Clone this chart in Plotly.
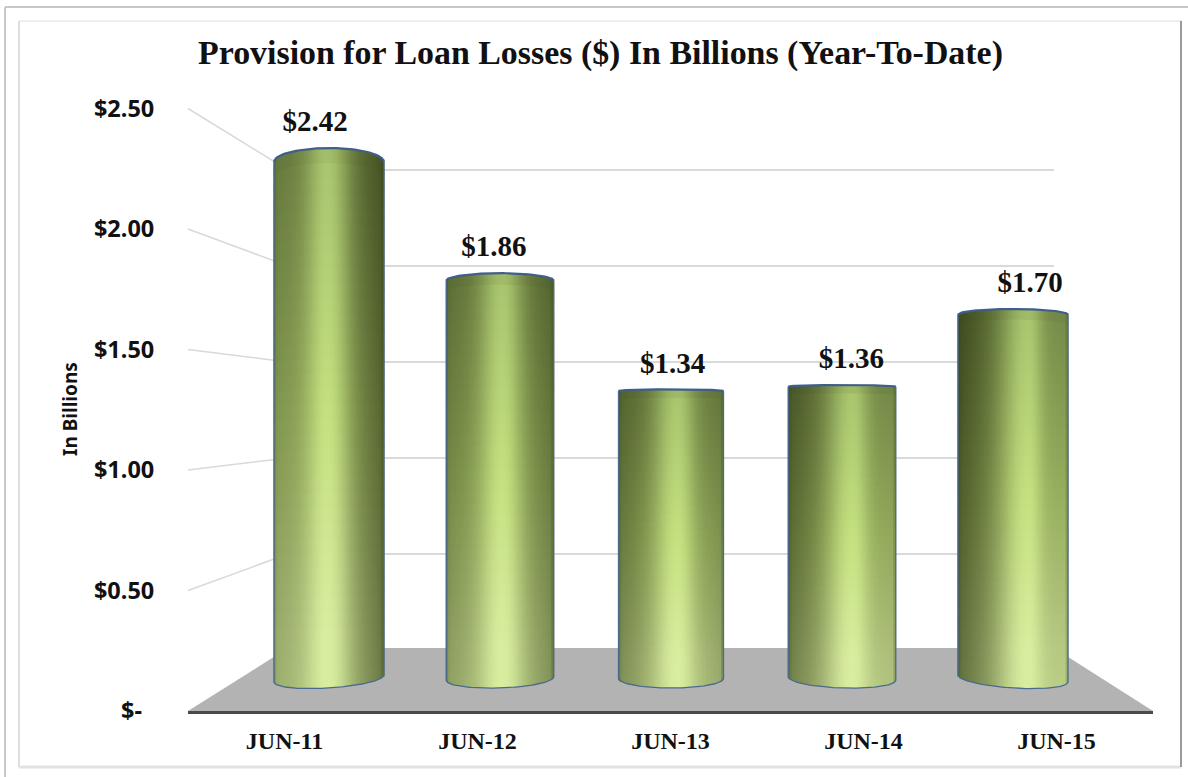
import math
import plotly.graph_objects as go

categories = ["JUN-11", "JUN-12", "JUN-13", "JUN-14", "JUN-15"]
values = [2.42, 1.86, 1.34, 1.36, 1.70]
value_labels = ["$2.42", "$1.86", "$1.34", "$1.36", "$1.70"]
y_ticks = [0, 0.5, 1.0, 1.5, 2.0, 2.5]
y_tick_labels = ["$-\u00a0\u00a0", "$0.50", "$1.00", "$1.50", "$2.00", "$2.50"]

W, H = 1188, 777
SERIF = "Liberation Serif"
SANS = "Noto Sans"


def px(x):
    return x / W


def py(y):
    return 1 - y / H


# bar projection: value 0 sits at pixel 675, 212 px per unit
B0, BS = 675, 212
CX0, CXS = 329, 171


def to_val(y):
    return (B0 - y) / BS


def lerp(a, b, t):
    return a + (b - a) * t


def mix(c1, c2, t):
    return tuple(lerp(a, b, t) for a, b in zip(c1, c2))


DARK = (55, 67, 26)
HI_TOP = (168, 196, 110)
HI_MID = (197, 225, 128)
HI_BOT = (217, 238, 160)


def hi(f):
    if f < 0.5:
        return mix(HI_TOP, HI_MID, f / 0.5)
    return mix(HI_MID, HI_BOT, min(1, (f - 0.5) / 0.4))


def arc(v):
    return max(1.5, 1.5 + (v - 1.34) * 11.5)


def half(i):
    return (105 + 2.5 * abs(i - 2)) / 2


def top_px(i, v, t):
    return B0 - v * BS - arc(v) * math.sqrt(max(0, 1 - t * t))


def bot_px(i, t):
    return 678.5 + 9.5 * math.sqrt(max(0, 1 - t * t)) + 1.75 * (i - 2) * t


def shading(t, f, h, el, er, dist_top):
    left = t < h
    d = abs(t - h) / (1 + h if left else 1 - h)
    flank = 0.56 + 0.25 * f
    edge = (el if left else er) + 0.2 * f
    side = lerp(flank, min(edge, flank), d)
    s = side + (1 - side) * math.exp(-(d / 0.36) ** 2)
    s *= 1 - 0.45 * max(0, (d - 0.92) / 0.08) ** 2
    s *= 1 - 0.12 * max(0, 1 - dist_top / 12)
    return s


fig = go.Figure()

# empty carriers for the back wall and front axis subplots
fig.add_trace(go.Scatter(x=[0, 1], y=[0, 2.5], mode="none", xaxis="x", yaxis="y", showlegend=False, hoverinfo="skip"))
fig.add_trace(go.Scatter(x=categories, y=[0] * 5, mode="none", xaxis="x2", yaxis="y2", showlegend=False, hoverinfo="skip"))

# real value bars beneath the shading strips
fig.add_trace(go.Bar(x=list(range(5)), y=values, width=[2 * half(i) / CXS - 0.01 for i in range(5)],
                     marker=dict(color="#7d9540", line=dict(width=0)), xaxis="x3", yaxis="y3", showlegend=False))

STRIP = 2.0
SEGS = 36
for i, v in enumerate(values):
    hw = half(i)
    h = -0.03 + 0.08 * i
    el = 0.42 - 0.09 * i
    er = 0.12 + 0.14 * i
    xs, bases, ys, cols = [], [], [], []
    n = int(2 * hw / STRIP)
    for s in range(n):
        t = -1 + (s + 0.5) * 2 / n
        tp, bt = top_px(i, v, t), bot_px(i, t)
        for k in range(SEGS):
            f0, f1 = k / SEGS, (k + 1) / SEGS
            y0 = lerp(tp, bt, f0)
            y1 = lerp(tp, bt, f1)
            fm = (f0 + f1) / 2
            if k < SEGS - 1:
                y1 += 1
            xs.append(i + t * hw / CXS)
            bases.append(to_val(y1))
            ys.append(to_val(y0) - to_val(y1))
            c = mix(DARK, hi(fm), shading(t, fm, h, el, er, lerp(tp, bt, fm) - tp))
            cols.append("rgb(%d,%d,%d)" % c)
    fig.add_trace(go.Bar(x=xs, y=ys, base=bases, width=(STRIP + 0.8) / CXS,
                         marker=dict(color=cols, line=dict(width=0)),
                         xaxis="x3", yaxis="y3", showlegend=False, hoverinfo="skip"))
    # outline following the cylinder: body, then a heavier rim on top
    ts = [-1 + j / 30 for j in range(61)]
    ox = [i + hw / CXS] + [i + t * hw / CXS for t in reversed(ts)] + [i - hw / CXS]
    oy = [to_val(top_px(i, v, 1))] + [to_val(bot_px(i, t)) for t in reversed(ts)] + [to_val(top_px(i, v, -1))]
    fig.add_trace(go.Scatter(x=ox, y=oy, mode="lines", line=dict(color="#4a6a8e", width=1.3),
                             xaxis="x3", yaxis="y3", showlegend=False, hoverinfo="skip"))
    fig.add_trace(go.Scatter(x=[i + t * hw / CXS for t in ts], y=[to_val(top_px(i, v, t)) for t in ts], mode="lines",
                             line=dict(color="#3f5f8a", width=2.2),
                             xaxis="x3", yaxis="y3", showlegend=False, hoverinfo="skip"))

label_x = [i + (7.75 * (i - 2) + 1.5) / CXS for i in range(5)]
label_y = [v + (arc(v) + 24) / BS for v in values]
fig.add_trace(go.Scatter(x=label_x, y=label_y, mode="text", text=["<b>%s</b>" % s for s in value_labels], textposition="middle center",
                         textfont=dict(family=SERIF, size=29, color="#111111"),
                         xaxis="x3", yaxis="y3", showlegend=False, hoverinfo="skip"))


def line(x0, y0, x1, y1, color, width, layer="below"):
    return dict(type="line", xref="paper", yref="paper", x0=px(x0), y0=py(y0), x1=px(x1), y1=py(y1),
                line=dict(color=color, width=width), layer=layer)


shapes = [
    line(5, 7, 1188, 7, "#c8c8c8", 2),
    line(5, 7, 5, 777, "#c8c8c8", 2),
    line(19, 21, 1181, 21, "#eeeeee", 2),
    line(19, 21, 19, 767, "#dedede", 2),
    line(19, 767, 1181, 767, "#e2e2e2", 3),
    line(1181, 21, 1181, 767, "#9a9a9a", 2),
    dict(type="path", xref="paper", yref="paper", layer="below", fillcolor="#b3b3b3", line=dict(width=0),
         path="M %f %f L %f %f L %f %f L %f %f Z" % (px(188), py(711), px(1153), py(711), px(1054), py(648), px(288), py(648))),
]
for v in y_ticks[1:]:
    shapes.append(line(188, 711 - 241 * v, 288, 650 - 192 * v, "#d9d9d9", 1.5))

fig.update_layout(
    template="none",
    width=W, height=H, autosize=False, margin=dict(l=0, r=0, t=0, b=0, pad=0),
    paper_bgcolor="white", plot_bgcolor="rgba(0,0,0,0)", barmode="overlay", showlegend=False,
    shapes=shapes,
    annotations=[
        dict(text="<b>Provision for Loan Losses ($) In Billions (Year-To-Date)</b>", xref="paper", yref="paper",
             x=px(600), y=py(53), xanchor="center", yanchor="middle", showarrow=False,
             font=dict(family=SERIF, size=33.9, color="#111111")),
        dict(text="<b>In Billions</b>", xref="paper", yref="paper", x=px(70), y=py(409), xanchor="center", yanchor="middle",
             textangle=-90, showarrow=False, font=dict(family=SANS, size=19, color="#111111")),
    ],
    # back wall grid
    xaxis=dict(domain=[px(288), px(1054)], range=[0, 1], visible=False, fixedrange=True, automargin=False),
    yaxis=dict(domain=[py(650), 1], range=[0, 650 / 192], anchor="x", showgrid=True, gridcolor="#d9d9d9", gridwidth=1.5,
               tickmode="array", tickvals=y_ticks[1:], ticktext=[""] * 5, zeroline=False, showline=False, ticks="", automargin=False),
    # front axes with tick labels
    xaxis2=dict(domain=[px(188), px(1153)], anchor="y2", type="category", categoryorder="array", categoryarray=categories,
                range=[-0.5, 4.5], autorange=False,
                showgrid=False, showline=True, linecolor="#4a4a4a", linewidth=3, zeroline=False, automargin=False,
                ticks="outside", ticklen=6, tickcolor="rgba(0,0,0,0)",
                tickfont=dict(family=SERIF, size=24, color="#111111"),
                tickmode="array", tickvals=categories, ticktext=["<b>%s</b>" % c for c in categories]),
    yaxis2=dict(domain=[py(711), 1], range=[0, 711 / 241], anchor="x2", showgrid=False, zeroline=False, showline=False, automargin=False,
                ticks="outside", ticklen=28, tickcolor="rgba(0,0,0,0)",
                tickmode="array", tickvals=y_ticks, ticktext=["<b>%s</b>" % t for t in y_tick_labels],
                tickfont=dict(family=SANS, size=23.5, color="#111111")),
    # bars
    xaxis3=dict(domain=[px(CX0 - CXS / 2), px(CX0 + 4.5 * CXS)], range=[-0.5, 4.5], anchor="y3", visible=False, automargin=False),
    yaxis3=dict(domain=[0, 1], range=[to_val(H), to_val(0)], anchor="x3", visible=False, automargin=False),
)

fig.write_html("out.html", post_script="document.body.style.margin='0';", config={"displayModeBar": False})
